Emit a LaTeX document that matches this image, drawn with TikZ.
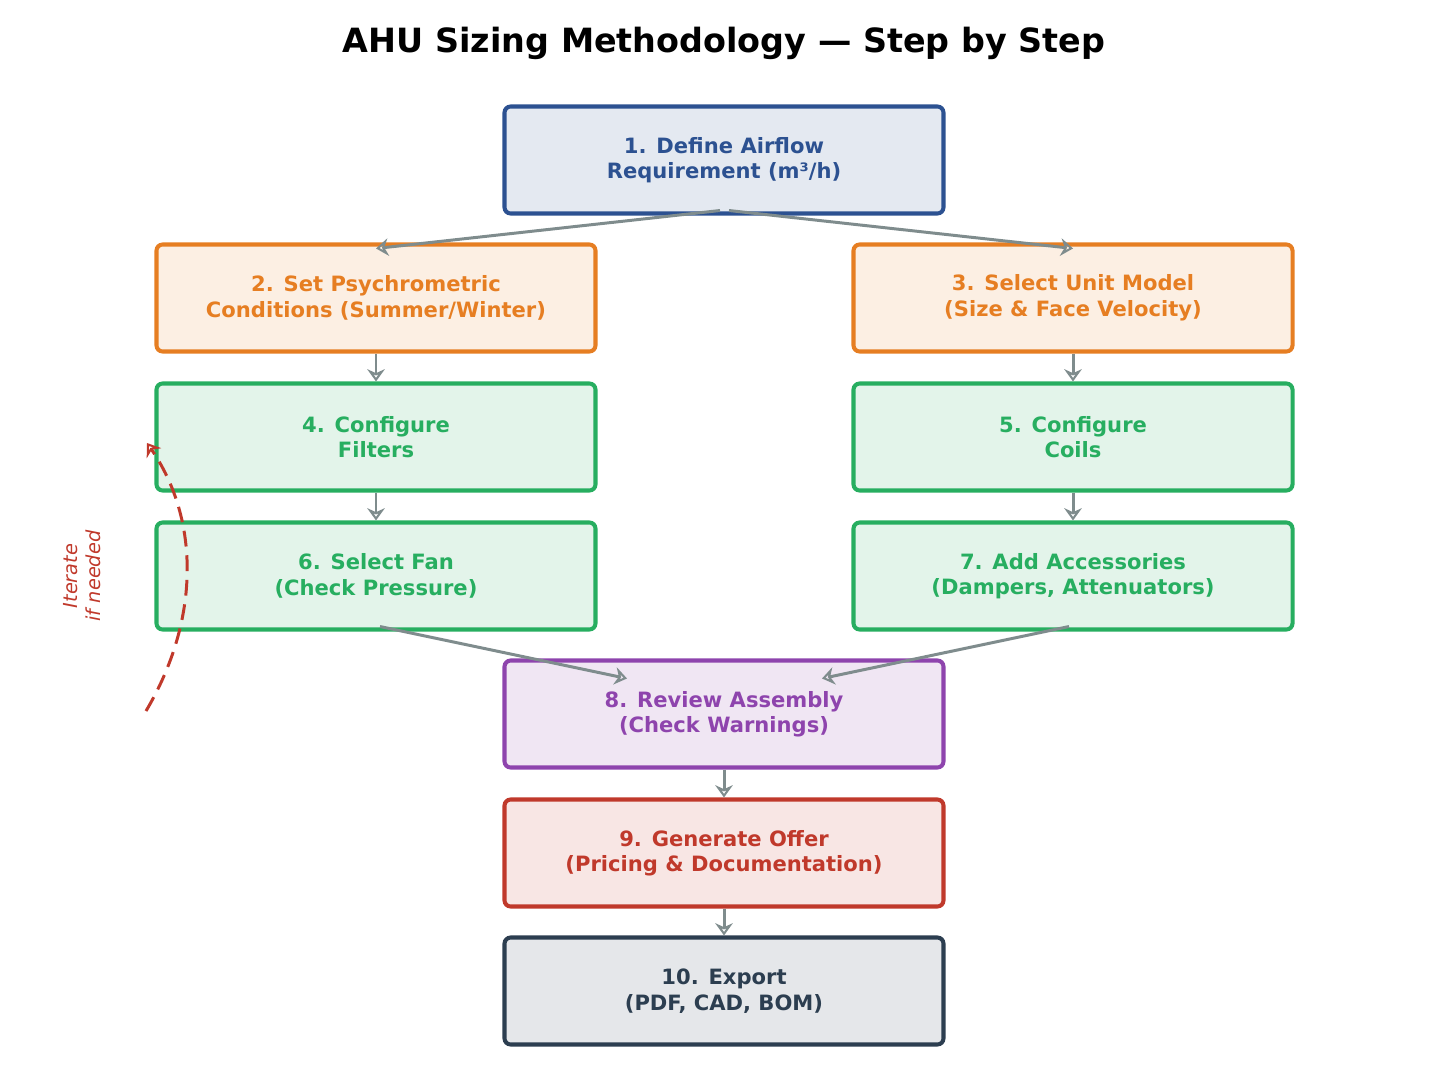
\documentclass[tikz,border=0pt]{standalone}
\usepackage{fontspec}
\setmainfont{DejaVu Sans}
\usetikzlibrary{arrows.meta}
\definecolor{cblue}{HTML}{2C5191}\definecolor{fblue}{HTML}{E4E9F1}
\definecolor{corange}{HTML}{E67E22}\definecolor{forange}{HTML}{FCEFE3}
\definecolor{cgreen}{HTML}{27AE60}\definecolor{fgreen}{HTML}{E3F4EA}
\definecolor{cpurple}{HTML}{8E44AD}\definecolor{fpurple}{HTML}{F0E6F3}
\definecolor{cred}{HTML}{C0392B}\definecolor{fred}{HTML}{F8E6E4}
\definecolor{cdark}{HTML}{2C3E50}\definecolor{fdark}{HTML}{E5E7EA}
\definecolor{cgray}{HTML}{7F8C8D}
\begin{document}
\begin{tikzpicture}[x=0.02cm,y=-0.02cm,
  box/.style={draw=c#1, fill=f#1, text=c#1, line width=2.3pt, rounded corners=3.5pt,
    minimum width=439*0.02cm, minimum height=107*0.02cm, align=center,
    font=\fontsize{12}{14.5}\selectfont\bfseries},
  arr/.style={draw=cgray, line width=1.7pt, -{Stealth[open,length=7pt,width=10pt,line width=1.7pt]}}]
\useasboundingbox (0,0) rectangle (1449,1088);
\node[font=\fontsize{19}{22}\selectfont\bfseries] (t) at (724,43) {AHU Sizing Methodology — Step by Step};
\node[box=blue] (b1) at (724,160) {1. Define Airflow\\Requirement (m³/h)};
\node[box=orange] (b2) at (376,298) {2. Set Psychrometric\\Conditions (Summer/Winter)};
\node[box=orange] (b3) at (1073,298) {3. Select Unit Model\\(Size \& Face Velocity)};
\node[box=green] (b4) at (376,437) {4. Configure\\Filters};
\node[box=green] (b5) at (1073,437) {5. Configure\\Coils};
\node[box=green] (b6) at (376,576) {6. Select Fan\\(Check Pressure)};
\node[box=green] (b7) at (1073,576) {7. Add Accessories\\(Dampers, Attenuators)};
\node[box=purple] (b8) at (724,714) {8. Review Assembly\\(Check Warnings)};
\node[box=red] (b9) at (724,853) {9. Generate Offer\\(Pricing \& Documentation)};
\node[box=dark] (b10) at (724,991) {10. Export\\(PDF, CAD, BOM)};
\draw[arr] ([xshift=-4*0.02cm,yshift=5*0.02cm]b1.south) -- ([yshift=-6*0.02cm]b2.north);
\draw[arr] ([xshift=5*0.02cm,yshift=5*0.02cm]b1.south) -- ([yshift=-6*0.02cm]b3.north);
\draw[arr] (b2.south) -- (b4.north);
\draw[arr] (b3.south) -- (b5.north);
\draw[arr] (b4.south) -- (b6.north);
\draw[arr] (b5.south) -- (b7.north);
\draw[arr] ([xshift=4*0.02cm,yshift=5*0.02cm]b6.south) -- ([xshift=-97*0.02cm,yshift=-20*0.02cm]b8.north);
\draw[arr] ([xshift=-4*0.02cm,yshift=5*0.02cm]b7.south) -- ([xshift=98*0.02cm,yshift=-20*0.02cm]b8.north);
\draw[arr] (b8.south) -- (b9.north);
\draw[arr] (b9.south) -- (b10.north);
\coordinate (i1) at (146,711); \coordinate (i2) at (147,443);
\draw[cred, line width=1.7pt, dash pattern=on 9pt off 5pt, -{Stealth[open,length=7pt,width=10pt,line width=1.7pt]}]
  (i1) .. controls (200,620) and (200,520) .. (i2);
\node[text=cred, rotate=90, align=center, font=\fontsize{11}{13}\selectfont\itshape] (it) at (82,576) {Iterate\\if needed};
\end{tikzpicture}
\end{document}
